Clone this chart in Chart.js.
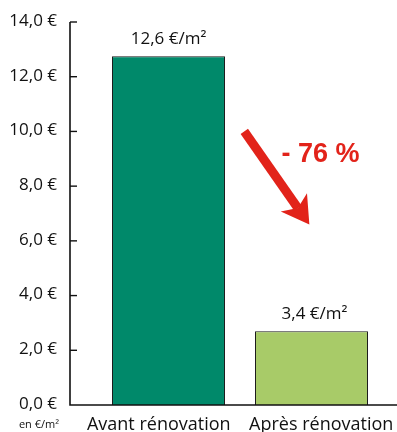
<!DOCTYPE html>
<html>
<head>
<meta charset="utf-8">
<script src="https://cdn.jsdelivr.net/npm/chart.js@4"></script>
<style>
html,body{margin:0;padding:0;background:#fff;}
canvas{display:block;}
</style>
</head>
<body>
<canvas id="c" width="397" height="432"></canvas>
<script>
// ---- data ----
const categories = ['Avant rénovation', 'Après rénovation'];
const barValues = [12.75, 2.7];            // bar heights as drawn in the picture
const valueLabels = ['12,6 €/m²', '3,4 €/m²'];
const barColors = ['#00896A', '#A8CB68'];
const yTickValues = [0, 2, 4, 6, 8, 10, 12, 14];
const yTickLabels = ['0,0 €', '2,0 €', '4,0 €', '6,0 €', '8,0 €', '10,0 €', '12,0 €', '14,0 €'];
const unitLabel = 'en €/m²';
const changeLabel = '- 76 %';

const AXIS_GAP = 27;

const decor = {
  id: 'decor',
  afterDatasetsDraw(chart) {
    const ctx = chart.ctx;
    const ca = chart.chartArea;
    const xs = chart.scales.x, ys = chart.scales.y;
    const ax = ca.left - AXIS_GAP;
    ctx.save();
    // axes
    ctx.strokeStyle = '#111';
    ctx.lineWidth = 1.6;
    ctx.beginPath();
    ctx.moveTo(ax, ys.getPixelForValue(14));
    ctx.lineTo(ax, ys.getPixelForValue(0));
    ctx.lineTo(chart.width, ys.getPixelForValue(0));
    ctx.stroke();
    ctx.lineWidth = 1.4;
    yTickValues.forEach(v => {
      if (v === 0) return;
      const y = ys.getPixelForValue(v);
      ctx.beginPath();
      ctx.moveTo(ax, y);
      ctx.lineTo(ax + 7, y);
      ctx.stroke();
    });
    // y tick labels
    ctx.fillStyle = '#111';
    ctx.font = '17px "Open Sans"';
    ctx.textAlign = 'right';
    ctx.textBaseline = 'middle';
    yTickValues.forEach((v, i) => {
      ctx.fillText(yTickLabels[i], ax - 13, ys.getPixelForValue(v) - 1);
    });
    // unit label
    ctx.textBaseline = 'alphabetic';
    ctx.font = '11px "Open Sans"';
    ctx.fillText(unitLabel, ax - 11, 428);
    // category labels
    ctx.font = '18px "Open Sans"';
    ctx.textAlign = 'center';
    categories.forEach((c, i) => {
      const shift = i === 0 ? -0.068 : 0.068;
      ctx.fillText(c, xs.getPixelForValue(i + shift), ys.getPixelForValue(0) + 25);
    });
    // value labels
    ctx.font = '17px "Open Sans"';
    const meta = chart.getDatasetMeta(0);
    meta.data.forEach((bar, i) => {
      ctx.fillText(valueLabels[i], bar.x + (i === 1 ? 3 : 0), bar.y - 12);
    });
    // arrow
    const sx = xs.getPixelForValue(0.53), sy = ys.getPixelForValue(10);
    const tx = xs.getPixelForValue(0.985), ty = ys.getPixelForValue(6.6);
    const dx = tx - sx, dy = ty - sy, L = Math.hypot(dx, dy);
    const ux = dx / L, uy = dy / L, px = -uy, py = ux;
    const headLen = 25, halfW = 16;
    const bx = tx - ux * headLen, by = ty - uy * headLen;
    ctx.strokeStyle = '#E2231A';
    ctx.fillStyle = '#E2231A';
    ctx.lineWidth = 9;
    ctx.lineCap = 'butt';
    ctx.beginPath();
    ctx.moveTo(sx, sy);
    ctx.lineTo(bx + ux * 5, by + uy * 5);
    ctx.stroke();
    ctx.beginPath();
    ctx.moveTo(tx, ty);
    ctx.lineTo(bx + px * halfW - ux * 2, by + py * halfW - uy * 2);
    ctx.lineTo(bx + ux * 5, by + uy * 5);
    ctx.lineTo(bx - px * halfW - ux * 2, by - py * halfW - uy * 2);
    ctx.closePath();
    ctx.fill();
    // change label
    ctx.font = 'bold 27px "Liberation Sans"';
    ctx.textAlign = 'left';
    ctx.fillText(changeLabel, xs.getPixelForValue(0.79), ys.getPixelForValue(8.87));
    ctx.restore();
  }
};

new Chart(document.getElementById('c'), {
  type: 'bar',
  data: {
    labels: categories,
    datasets: [{
      data: barValues,
      backgroundColor: barColors,
      borderColor: '#1a1a1a',
      borderWidth: 1,
      barPercentage: 0.79,
      categoryPercentage: 1
    }]
  },
  options: {
    responsive: false,
    animation: false,
    events: [],
    layout: { padding: { left: 97, right: 14, top: 22, bottom: 27 } },
    plugins: { legend: { display: false }, tooltip: { enabled: false } },
    scales: {
      x: { display: false, offset: true },
      y: { display: false, min: 0, max: 14 }
    }
  },
  plugins: [decor]
});
</script>
</body>
</html>
